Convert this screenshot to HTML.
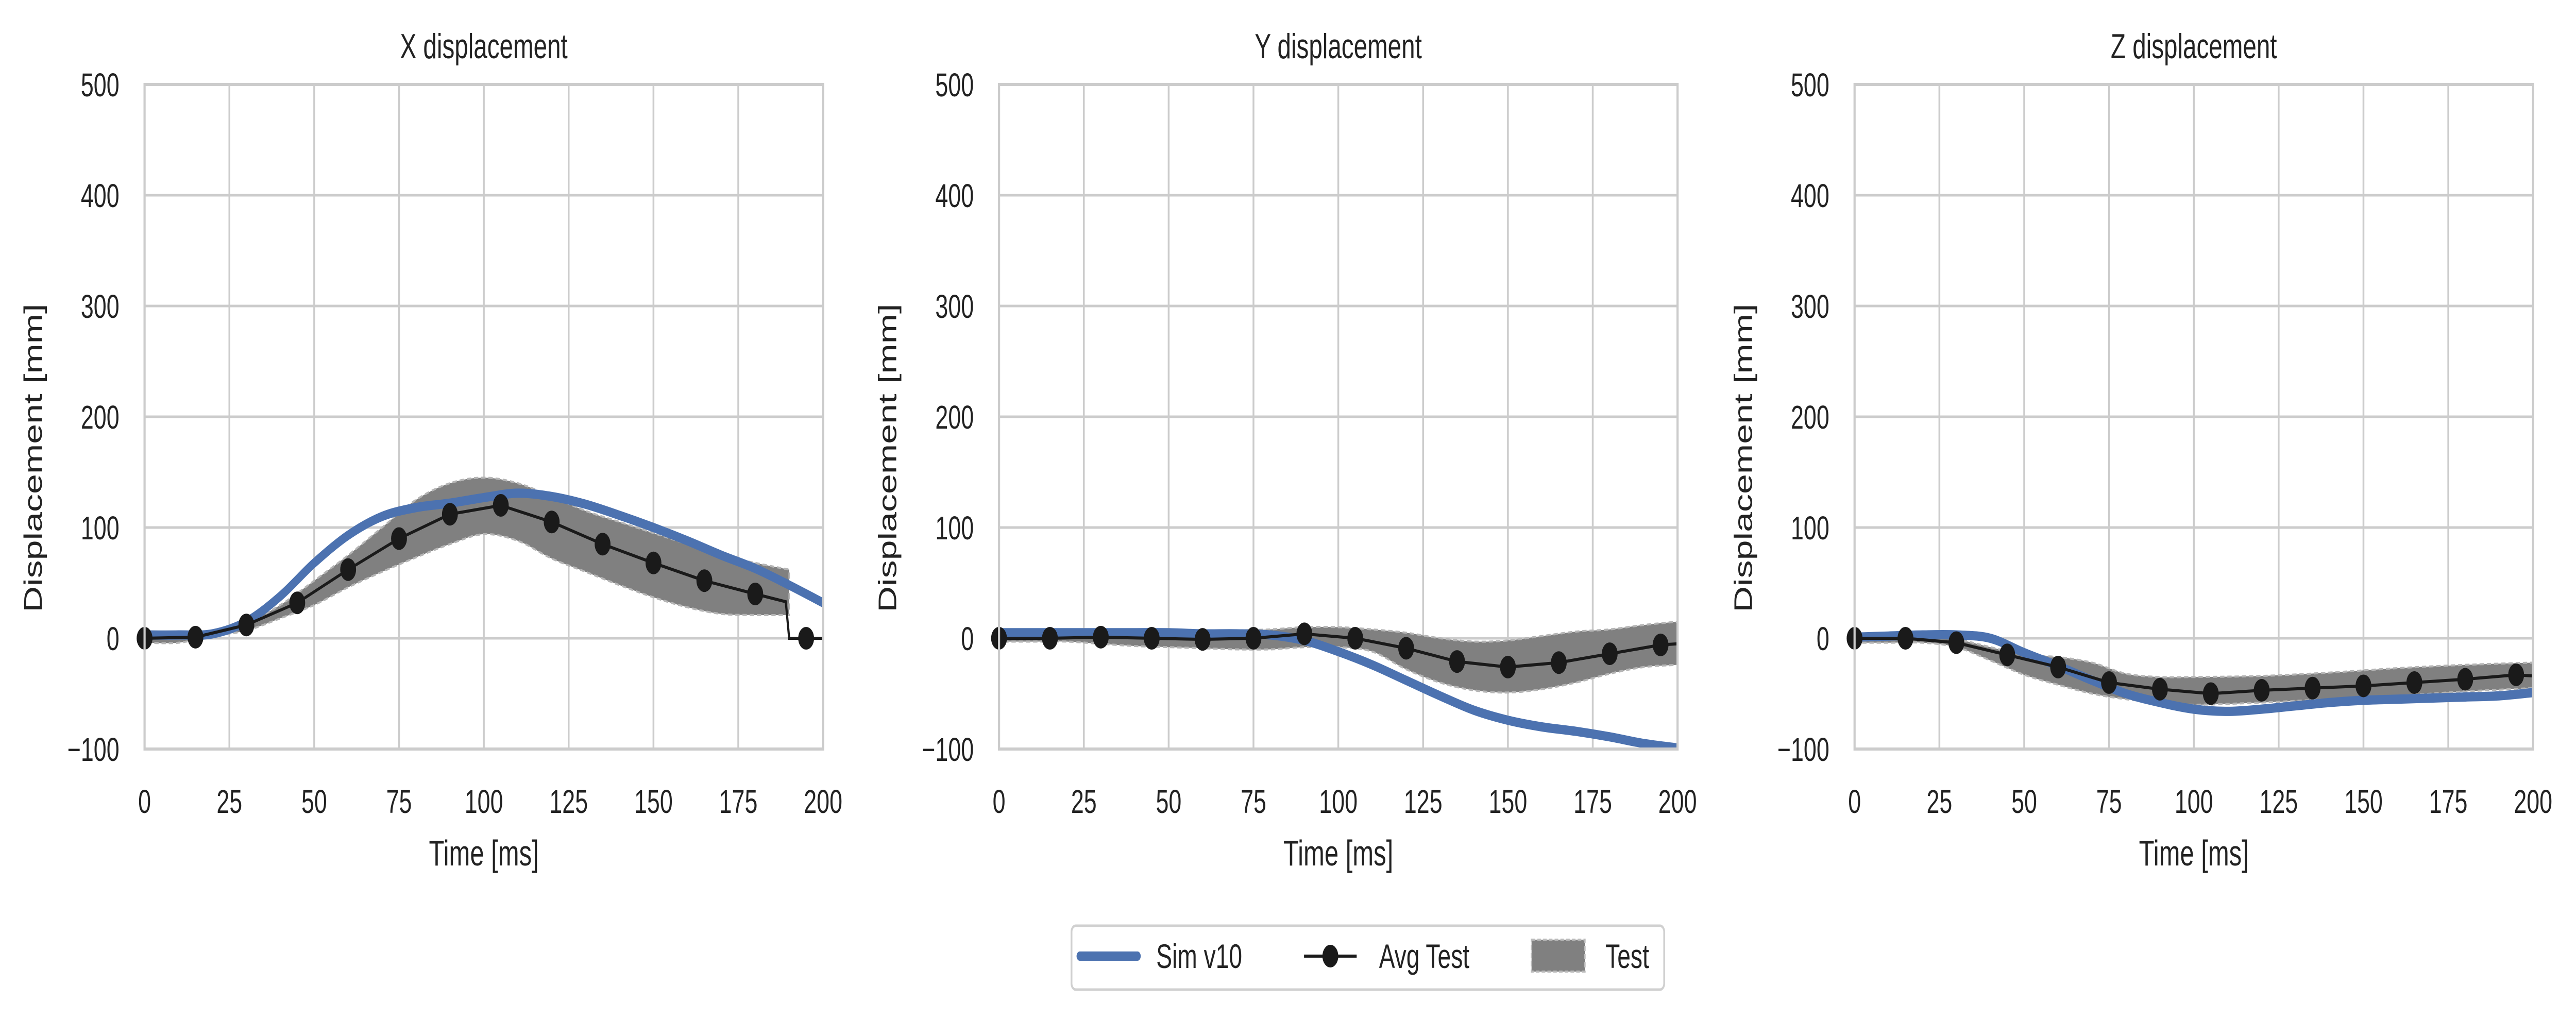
<!DOCTYPE html>
<html><head><meta charset="utf-8">
<style>
html,body{margin:0;padding:0;background:#fff;width:100%;height:100%;overflow:hidden;}
svg{display:block;width:100vw;height:100vh;font-family:"Liberation Sans",Arial,sans-serif;}
</style></head>
<body>
<svg id="fig" viewBox="0 0 7145 1980" preserveAspectRatio="none" xmlns="http://www.w3.org/2000/svg">
<rect width="7145" height="1980" fill="#fff"/>
<g id="panels"></g>
<g id="legend">
  <rect x="2972" y="1797" width="1644" height="124" rx="12" fill="#fff" stroke="#d0d0d0" stroke-width="5"/>
  <g>
    <line x1="2995" y1="1856" x2="3155" y2="1856" stroke="#4c72b0" stroke-width="18" stroke-linecap="round"/>
    <text x="3207" y="1879" font-size="66" fill="#222">Sim v10</text>
  </g>
  <g>
    <line x1="3617" y1="1856" x2="3763" y2="1856" stroke="#1a1a1a" stroke-width="6"/>
    <circle cx="3690" cy="1856" r="22" fill="#1a1a1a"/>
    <text x="3825" y="1879" font-size="66" fill="#222">Avg Test</text>
  </g>
  <g>
    <rect x="4248" y="1824" width="148" height="62" fill="#808080" stroke="#bbb" stroke-width="4" stroke-dasharray="10,6"/>
    <text x="4453" y="1879" font-size="66" fill="#222">Test</text>
  </g>
</g>
</svg>
<script>
// ---- data ----
const simT = [0,10,20,30,40,50,60,70,80,90,100,110,120,130,140,150,160,170,180,190,200];
const simX = [3,3,4,15,38,68,93,110,118,122,127,131,128,121,111,100,88,75,63,48,32];
const simY = [5,5,5,5,5,5,4,4,3,-2,-12,-24,-38,-52,-65,-74,-80,-84,-89,-95,-99];
const simZ = [1,2,3,3,0,-13,-25,-38,-50,-58,-64,-66,-64,-61,-58,-56,-55,-54,-53,-52,-49];

const avgT = [0,15,30,45,60,75,90,105,120,135,150,165,180,195];
const avgX = [0,1,12,32,62,90,112,120,105,85,68,52,40,0];
const avgY = [0,0,1,0,-1,0,4,0,-9,-21,-26,-22,-14,-6];
const avgZ = [0,0,-4,-15,-26,-40,-46,-50,-47,-45,-43,-40,-37,-33];
const avgXLineT = [0,15,30,45,60,75,90,105,120,135,150,165,180,189,190,195,200];
const avgXLine  = [0,1,12,32,62,90,112,120,105,85,68,52,40,33,0,0,0];
const avgYLineT = [0,15,30,45,60,75,90,105,120,135,150,165,180,195,200];
const avgYLine  = [0,0,1,0,-1,0,4,0,-9,-21,-26,-22,-14,-6,-5];
const avgZLineT = [0,15,30,45,60,75,90,105,120,135,150,165,180,195,200];
const avgZLine  = [0,0,-4,-15,-26,-40,-46,-50,-47,-45,-43,-40,-37,-33,-34];

const bandXT = [0,10,20,30,40,50,60,70,80,90,100,110,120,130,140,150,160,170,180,190];
const bandXUp = [4,4,6,14,30,52,75,100,125,140,145,140,128,115,105,95,85,75,68,62];
const bandXLo = [-4,-4,2,7,18,30,46,60,73,85,94,88,72,60,48,37,28,22,21,21];
const bandYT = [0,10,20,30,40,50,60,70,80,90,100,110,120,130,140,150,160,170,180,190,200];
const bandYUp = [2,2,2,3,4,5,6,7,8,10,10,8,5,0,-3,-2,2,6,8,12,15];
const bandYLo = [-3,-3,-3,-5,-7,-8,-9,-10,-10,-8,-8,-12,-28,-40,-47,-49,-46,-40,-32,-26,-24];
const bandZT = [0,10,20,30,40,50,60,70,80,90,100,120,140,160,180,200];
const bandZUp = [2,2,1,-1,-8,-15,-17,-22,-32,-35,-35,-34,-31,-27,-24,-22];
const bandZLo = [-4,-4,-4,-8,-20,-33,-42,-50,-55,-58,-60,-58,-55,-52,-48,-45];

const xTicks = [0,25,50,75,100,125,150,175,200];
const yTicks = [-100,0,100,200,300,400,500];
const titles = ["X displacement","Y displacement","Z displacement"];
const panelLefts = [401,2771,5144];

const NS = "http://www.w3.org/2000/svg";
const root = document.getElementById('panels');
function mk(tag, attrs, parent){const e=document.createElementNS(NS,tag);for(const k in attrs)e.setAttribute(k,attrs[k]);parent.appendChild(e);return e;}
function smooth(pts, move){
  let d = (move?'M':'L')+pts[0][0]+','+pts[0][1];
  for(let i=0;i<pts.length-1;i++){
    const p0=pts[Math.max(i-1,0)],p1=pts[i],p2=pts[i+1],p3=pts[Math.min(i+2,pts.length-1)];
    const c1x=p1[0]+(p2[0]-p0[0])/6,c1y=p1[1]+(p2[1]-p0[1])/6;
    const c2x=p2[0]-(p3[0]-p1[0])/6,c2y=p2[1]-(p3[1]-p1[1])/6;
    d+='C'+c1x+','+c1y+' '+c2x+','+c2y+' '+p2[0]+','+p2[1];
  }
  return d;
}

const W = 1882, TOP = 164, BOT = 1454;
const panels = [
  {name:'x', sim:simX, avg:avgX, lt:avgXLineT, lv:avgXLine, bt:bandXT, bu:bandXUp, bl:bandXLo},
  {name:'y', sim:simY, avg:avgY, lt:avgYLineT, lv:avgYLine, bt:bandYT, bu:bandYUp, bl:bandYLo},
  {name:'z', sim:simZ, avg:avgZ, lt:avgZLineT, lv:avgZLine, bt:bandZT, bu:bandZUp, bl:bandZLo}
];

panels.forEach((p,i)=>{
  const L = panelLefts[i], R = L+W;
  const sx = t => L + t/200*W;
  const sy = v => BOT - (v+100)/600*(BOT-TOP);
  const g = mk('g',{},root);
  
  
  const clipId = 'clip'+i;
  const cp = mk('clipPath',{id:clipId},g);
  mk('rect',{x:L,y:TOP,width:W,height:BOT-TOP},cp);
  xTicks.forEach(t=>{
    const ln = mk('line',{x1:sx(t),y1:TOP,x2:sx(t),y2:BOT,stroke:'#cccccc','stroke-width':5},g);
    
    
    const tx = mk('text',{x:sx(t),y:1578,'font-size':64,'text-anchor':'middle',fill:'#222'},g);
    tx.textContent = t;
    
    
  });
  yTicks.forEach(v=>{
    const ln = mk('line',{x1:L,y1:sy(v),x2:R,y2:sy(v),stroke:'#cccccc','stroke-width':5},g);
    
    
    const tx = mk('text',{x:L-70,y:sy(v)+23,'font-size':64,'text-anchor':'end',fill:'#222'},g);
    tx.textContent = v<0 ? '\u2212'+Math.abs(v) : v;
    
    
  });
  const dg = mk('g',{'clip-path':'url(#'+clipId+')'},g);
  const up = p.bt.map((t,k)=>[sx(t),sy(p.bu[k])]);
  const lo = p.bt.map((t,k)=>[sx(t),sy(p.bl[k])]).reverse();
  const band = mk('path',{d:smooth(up,true)+smooth(lo,false)+'Z',fill:'#808080',stroke:'#b5b5b5','stroke-width':4,'stroke-dasharray':'12,8'},dg);
  
  
  const sim = mk('path',{d:smooth(simT.map((t,k)=>[sx(t),sy(p.sim[k])]),true),fill:'none',stroke:'#4c72b0','stroke-width':18,'stroke-linejoin':'round'},dg);
  
  
  const av = mk('path',{d:p.lt.map((t,k)=>(k?'L':'M')+sx(t)+','+sy(p.lv[k])).join(''),fill:'none',stroke:'#1a1a1a','stroke-width':6},dg);
  
  
  avgT.forEach((t,k)=>{
    const c = mk('circle',{cx:sx(t),cy:sy(p.avg[k]),r:22,fill:'#1a1a1a'},g);
    
    
  });
  const fr = mk('rect',{x:L,y:TOP,width:W,height:BOT-TOP,fill:'none',stroke:'#cccccc','stroke-width':6},g);
  
  
  const ti = mk('text',{x:L+W/2,y:113,'font-size':68,'text-anchor':'middle',fill:'#222'},g);
  ti.textContent = titles[i];
  
  
  const xl = mk('text',{x:L+W/2,y:1680,'font-size':70,'text-anchor':'middle',fill:'#222'},g);
  xl.textContent = 'Time [ms]';
  
  
  const yx = L-285, yy = (TOP+BOT)/2+80;
  const yl = mk('text',{x:yx,y:yy,'font-size':70,'text-anchor':'middle',fill:'#222',transform:'rotate(-90 '+yx+' '+yy+')'},g);
  yl.textContent = 'Displacement [mm]';
  
  
});
</script>
</body></html>
